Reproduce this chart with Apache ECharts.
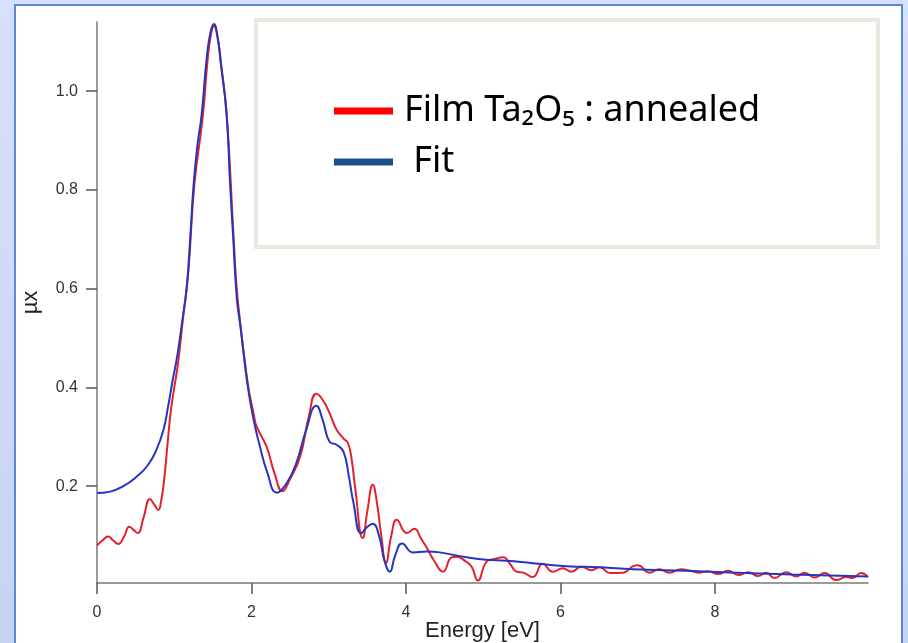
<!DOCTYPE html>
<html>
<head>
<meta charset="utf-8">
<script src="https://cdn.jsdelivr.net/npm/echarts@6/dist/echarts.min.js"></script>
<style>
  html, body { margin: 0; padding: 0; background: #fff; }
  #main { width: 908px; height: 643px; }
</style>
</head>
<body>
<div id="main"></div>
<script>
// measured film (red) curve: energy [eV] and mu x
var filmEnergy = [0.00, 0.07, 0.146, 0.21, 0.276, 0.35, 0.418, 0.47, 0.526, 0.60, 0.686, 0.74, 0.793, 0.83, 0.87, 0.91, 0.95, 0.99, 1.05,
  1.12, 1.18, 1.26, 1.37, 1.43, 1.47, 1.514, 1.56, 1.61, 1.68, 1.77, 1.82, 1.95, 2.03, 2.066, 2.195, 2.30, 2.40, 2.50, 2.63, 2.74,
  2.84, 2.92, 3.01, 3.10, 3.19, 3.25, 3.30, 3.34, 3.44, 3.50, 3.57, 3.62, 3.68, 3.74, 3.81, 3.88, 4.01, 4.11, 4.19, 4.27, 4.36,
  4.48, 4.59, 4.65, 4.78, 4.85, 4.93, 5.04, 5.13, 5.26, 5.34, 5.43, 5.52, 5.64, 5.77, 5.90, 6.03, 6.14, 6.27, 6.40, 6.51, 6.64,
  6.81, 6.94, 7.00, 7.15, 7.28, 7.41, 7.56, 7.68, 7.80, 7.91, 8.04, 8.17, 8.30, 8.43, 8.56, 8.66, 8.77, 8.92, 9.05, 9.16, 9.29,
  9.42, 9.57, 9.70, 9.78, 9.89, 9.98];
var filmMu = [0.080, 0.090, 0.098, 0.090, 0.083, 0.098, 0.118, 0.112, 0.105, 0.135, 0.174, 0.163, 0.152, 0.170, 0.215, 0.280, 0.345, 0.390, 0.450,
  0.550, 0.630, 0.810, 0.950, 1.060, 1.110, 1.132, 1.110, 1.050, 0.950, 0.700, 0.580, 0.410, 0.345, 0.321, 0.280, 0.225, 0.190, 0.215, 0.260, 0.340,
  0.387, 0.375, 0.348, 0.315, 0.297, 0.287, 0.250, 0.199, 0.095, 0.150, 0.203, 0.170, 0.100, 0.045, 0.100, 0.132, 0.105, 0.114, 0.095, 0.075, 0.050,
  0.027, 0.056, 0.057, 0.047, 0.037, 0.009, 0.047, 0.052, 0.056, 0.044, 0.027, 0.025, 0.016, 0.043, 0.027, 0.034, 0.027, 0.037, 0.030, 0.036, 0.024,
  0.025, 0.038, 0.040, 0.025, 0.032, 0.025, 0.032, 0.029, 0.025, 0.028, 0.022, 0.029, 0.020, 0.026, 0.018, 0.025, 0.014, 0.026, 0.017, 0.025, 0.015,
  0.024, 0.010, 0.016, 0.014, 0.024, 0.016];

// fit (blue) curve
var fitEnergy = [0.00, 0.17, 0.34, 0.51, 0.66, 0.77, 0.86, 0.92, 0.98, 1.04, 1.10, 1.16, 1.21, 1.25, 1.30, 1.354, 1.42, 1.47, 1.514, 1.56,
  1.60, 1.678, 1.72, 1.764, 1.81, 1.86, 1.94, 2.02, 2.11, 2.20, 2.33, 2.45, 2.58, 2.70, 2.84, 2.92, 3.01, 3.10, 3.19, 3.26, 3.32,
  3.42, 3.50, 3.57, 3.65, 3.72, 3.79, 3.86, 3.95, 4.09, 4.27, 4.44, 4.78, 5.04, 5.30, 5.64, 6.08, 6.51, 6.94, 7.93, 9.00, 9.98];
var fitMu = [0.186, 0.189, 0.200, 0.219, 0.243, 0.274, 0.314, 0.361, 0.415, 0.465, 0.530, 0.600, 0.710, 0.810, 0.890, 0.952, 1.067, 1.120, 1.136, 1.110,
  1.060, 0.952, 0.820, 0.700, 0.580, 0.520, 0.415, 0.340, 0.280, 0.230, 0.187, 0.205, 0.247, 0.310, 0.363, 0.335, 0.290, 0.284, 0.270, 0.220, 0.166,
  0.105, 0.118, 0.124, 0.100, 0.050, 0.027, 0.060, 0.084, 0.066, 0.068, 0.066, 0.056, 0.051, 0.049, 0.044, 0.038, 0.036, 0.032, 0.027, 0.021, 0.017];

var xTicks = [0, 2, 4, 6, 8];
var yTicks = [0.2, 0.4, 0.6, 0.8, 1.0];

function pairs(xs, ys) {
  return xs.map(function (x, i) { return [x, ys[i]]; });
}

var chart = echarts.init(document.getElementById('main'));

var axisFont = { fontFamily: 'Liberation Sans, Arial, sans-serif', fontSize: 16, color: '#333' };

var option = {
  animation: false,
  backgroundColor: '#fff',
  graphic: [
    {
      type: 'rect', z: -20, silent: true,
      shape: { x: 0, y: 0, width: 908, height: 643 },
      style: { fill: new echarts.graphic.LinearGradient(0, 0, 0, 1, [
        { offset: 0, color: '#d6e0fc' }, { offset: 1, color: '#c7d3f3' }]) }
    },
    {
      type: 'rect', z: -19, silent: true,
      shape: { x: 15, y: 5, width: 887, height: 650 },
      style: { fill: '#fff', stroke: '#5b89d3', lineWidth: 2 }
    },
    {
      type: 'rect', z: -18, silent: true,
      shape: { x: 256, y: 20, width: 622, height: 227 },
      style: { fill: '#fff', stroke: '#ebe8df', lineWidth: 4 }
    }
  ],
  grid: { left: 97, right: 40, top: 22, bottom: 60, outerBoundsMode: 'none' },
  legend: {
    orient: 'vertical',
    left: 334,
    top: 93,
    padding: 0,
    itemGap: 15,
    itemWidth: 59,
    itemHeight: 7,
    icon: 'rect',
    data: [
      { name: 'Film', itemStyle: { color: '#ff0000' } },
      { name: 'Fit', itemStyle: { color: '#1f4e8c' } }
    ],
    formatter: function (name) {
      return name === 'Fit' ? ' Fit' : 'Film Ta\u2082O\u2085 : annealed';
    },
    textStyle: { fontFamily: '"Noto Sans", "Open Sans", sans-serif', fontSize: 36, color: '#000', padding: [0, 0, 0, 6] }
  },
  xAxis: {
    type: 'value',
    min: 0,
    max: 9.98,
    name: 'Energy [eV]',
    nameLocation: 'middle',
    nameGap: 37,
    nameMoveOverlap: false,
    nameTextStyle: { fontFamily: 'Liberation Sans, Arial, sans-serif', fontSize: 22, color: '#222' },
    axisLine: { lineStyle: { color: '#7a7a7a', width: 1.5 } },
    axisTick: { show: true, length: 11, customValues: xTicks, lineStyle: { color: '#555', width: 1.5 } },
    axisLabel: Object.assign({ margin: 22, customValues: xTicks }, axisFont),
    splitLine: { show: false }
  },
  yAxis: {
    type: 'value',
    min: 0.004,
    max: 1.14,
    name: '\u00b5x',
    nameLocation: 'middle',
    nameGap: 55,
    nameMoveOverlap: false,
    nameTextStyle: { fontFamily: 'Liberation Sans, Arial, sans-serif', fontSize: 22, color: '#222' },
    axisLine: { show: true, lineStyle: { color: '#7a7a7a', width: 1.5 } },
    axisTick: { show: true, length: 11, customValues: yTicks, lineStyle: { color: '#555', width: 1.5 } },
    axisLabel: Object.assign({
      margin: 19, customValues: yTicks,
      formatter: function (v) { return v.toFixed(1); }
    }, axisFont),
    splitLine: { show: false }
  },
  series: [
    {
      name: 'Film', type: 'line', data: pairs(filmEnergy, filmMu),
      smooth: 0.5, showSymbol: false,
      lineStyle: { color: '#e3222b', width: 2 }, itemStyle: { color: '#e3222b' }
    },
    {
      name: 'Fit', type: 'line', data: pairs(fitEnergy, fitMu),
      smooth: 0.5, showSymbol: false,
      lineStyle: { color: '#2535bf', width: 2 }, itemStyle: { color: '#2535bf' }
    }
  ]
};

chart.setOption(option);
</script>
</body>
</html>
